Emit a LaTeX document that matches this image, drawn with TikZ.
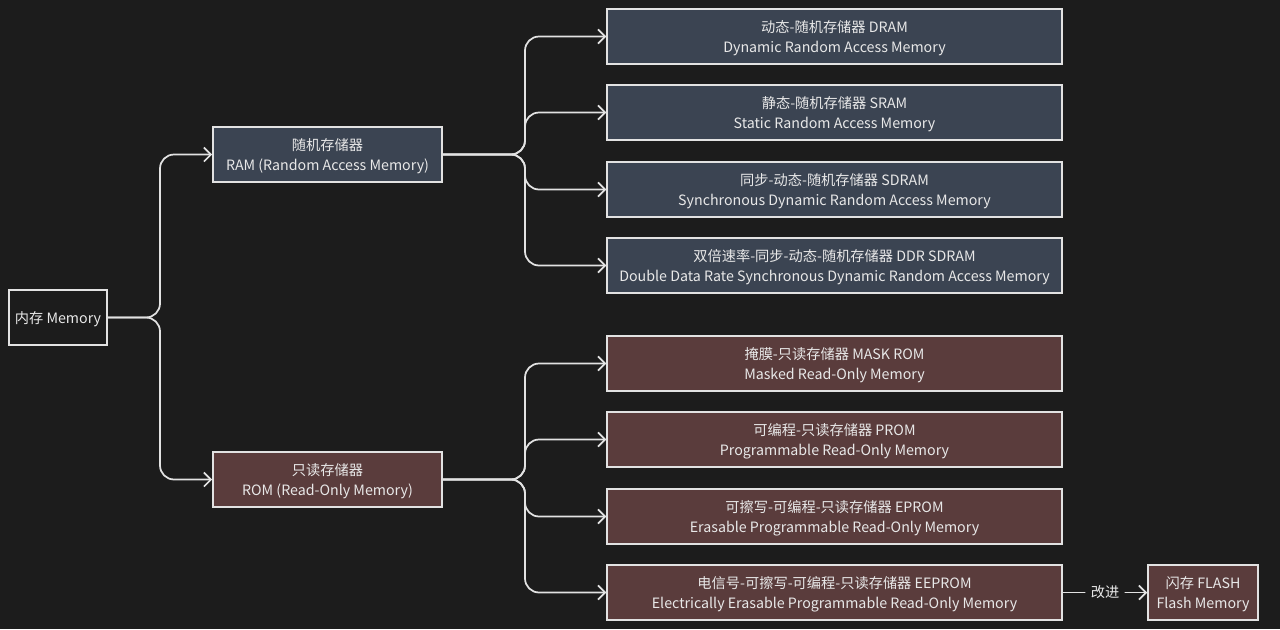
\documentclass[tikz,border=0pt]{standalone}
\usepackage{fontspec}
\setmainfont{Noto Sans CJK SC}
\usetikzlibrary{arrows.meta, calc}

\definecolor{bgdark}{HTML}{1C1C1C}
\definecolor{ramfill}{HTML}{3B4452}
\definecolor{romfill}{HTML}{5A3C3C}
\definecolor{edgegray}{HTML}{E2E2E2}
\definecolor{textgray}{HTML}{E8E8E8}

\begin{document}
\begin{tikzpicture}[
    x=0.02cm,
    y=-0.02cm,
    every node/.style={font=\fontsize{8.1}{11.9}\selectfont, text=textgray},
    box/.style={
        rectangle,
        draw=edgegray,
        line width=0.9pt,
        align=center,
        minimum height=1.1cm,
        inner sep=2pt,
        text depth=0pt
    },
    rootbox/.style={box, fill=bgdark, minimum width=1.96cm},
    rambox/.style={box, fill=ramfill, minimum width=4.58cm},
    rombox/.style={box, fill=romfill, minimum width=4.58cm},
    ramleaf/.style={box, fill=ramfill, minimum width=9.1cm},
    romleaf/.style={box, fill=romfill, minimum width=9.1cm},
    flashbox/.style={box, fill=romfill, minimum width=2.2cm},
    link/.style={
        -{Straight Barb[length=4pt, width=8pt]},
        line width=1pt,
        draw=edgegray,
        rounded corners=8pt
    },
    steplabel/.style={fill=bgdark, inner sep=3pt}
]

% background
\fill[bgdark] (0,0) rectangle (1280,629);

% ============================================
% Root and the two families
% ============================================
\node[rootbox] (mem) at (58,317.5) {内存 Memory};

\node[rambox] (ram) at (327.5,154.5) {随机存储器\\RAM (Random Access Memory)};
\node[rombox] (rom) at (327.5,479.5) {只读存储器\\ROM (Read-Only Memory)};

% ============================================
% RAM leaves
% ============================================
\node[ramleaf] (dram) at (834.5,36.5) {动态-随机存储器 DRAM\\Dynamic Random Access Memory};
\node[ramleaf] (sram) at (834.5,112.5) {静态-随机存储器 SRAM\\Static Random Access Memory};
\node[ramleaf] (sdram) at (834.5,189.5) {同步-动态-随机存储器 SDRAM\\Synchronous Dynamic Random Access Memory};
\node[ramleaf] (ddr) at (834.5,265.5) {双倍速率-同步-动态-随机存储器 DDR SDRAM\\Double Data Rate Synchronous Dynamic Random Access Memory};

% ============================================
% ROM leaves
% ============================================
\node[romleaf] (mask) at (834.5,363.5) {掩膜-只读存储器 MASK ROM\\Masked Read-Only Memory};
\node[romleaf] (prom) at (834.5,439.5) {可编程-只读存储器 PROM\\Programmable Read-Only Memory};
\node[romleaf] (eprom) at (834.5,516.5) {可擦写-可编程-只读存储器 EPROM\\Erasable Programmable Read-Only Memory};
\node[romleaf] (eeprom) at (834.5,592.5) {电信号-可擦写-可编程-只读存储器 EEPROM\\Electrically Erasable Programmable Read-Only Memory};

\node[flashbox] (flash) at (1203,592.5) {闪存 FLASH\\Flash Memory};

% Forks
\coordinate (memfork) at (160,317.5);
\coordinate (ramfork) at (525,154.5);
\coordinate (romfork) at (525,479.5);

% Connectors
\draw[link] (mem.east) -- (memfork) |- (ram.west);
\draw[link] (mem.east) -- (memfork) |- (rom.west);

\draw[link] (ram.east) -- (ramfork) |- (dram.west);
\draw[link] (ram.east) -- (ramfork) |- (sram.west);
\draw[link] (ram.east) -- (ramfork) |- (sdram.west);
\draw[link] (ram.east) -- (ramfork) |- (ddr.west);

\draw[link] (rom.east) -- (romfork) |- (mask.west);
\draw[link] (rom.east) -- (romfork) |- (prom.west);
\draw[link] (rom.east) -- (romfork) |- (eprom.west);
\draw[link] (rom.east) -- (romfork) |- (eeprom.west);

\draw[link] (eeprom.east) -- node[steplabel] {改进} (flash.west);

\end{tikzpicture}
\end{document}
